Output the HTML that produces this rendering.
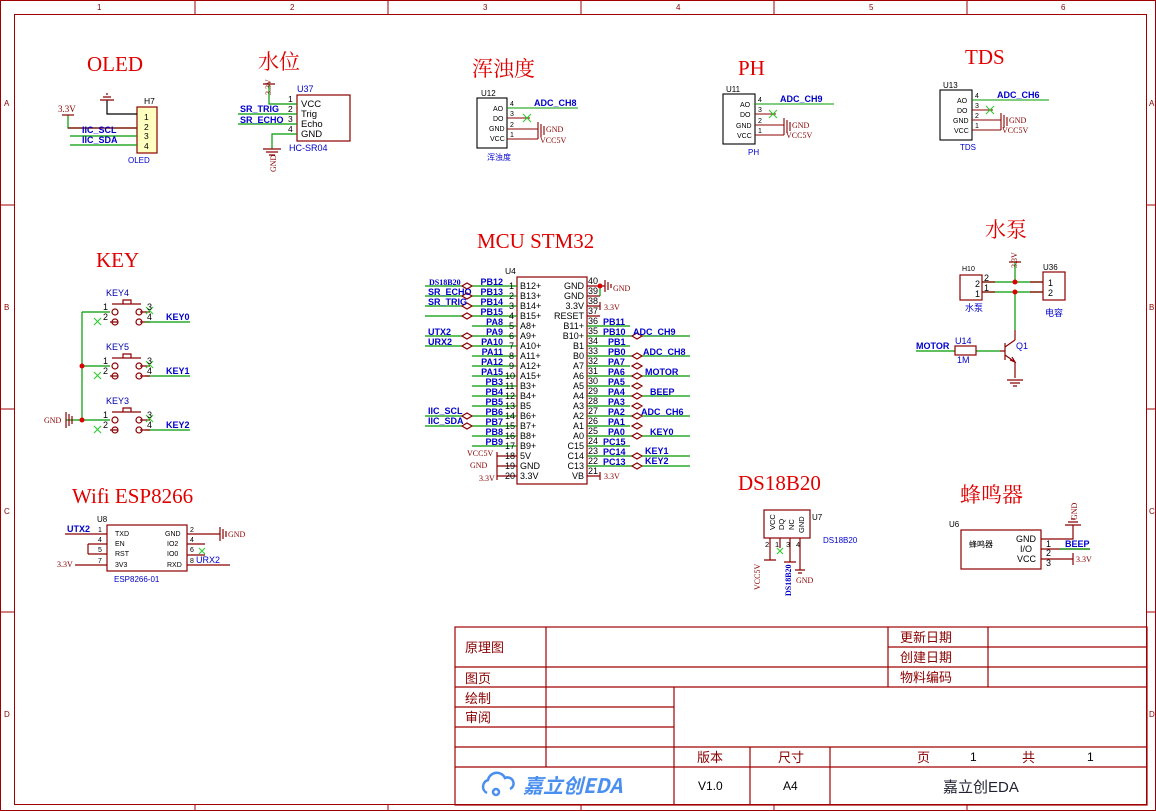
<!DOCTYPE html>
<html><head><meta charset="utf-8"><style>
body{margin:0;background:#fff}
svg{display:block}
.t{font-family:"Liberation Serif","Noto Serif CJK SC",serif;fill:#e00000;font-size:21px}
.s{font-family:"Liberation Sans",sans-serif;font-size:8.5px;fill:#000}
.n{font-family:"Liberation Sans",sans-serif;font-size:9px;fill:#0000cc;font-weight:bold}
.b{font-family:"Liberation Sans",sans-serif;font-size:8px;fill:#0000cc}
.r{font-family:"Liberation Serif",serif;font-size:8px;fill:#8b0000}
.c{font-family:"Liberation Sans","Noto Sans CJK SC",sans-serif;font-size:13px;fill:#8b0000}
.p{font-family:"Liberation Sans",sans-serif;font-size:9px;fill:#8b0000}
</style></head><body>
<svg width="1156" height="811" viewBox="0 0 1156 811" xmlns="http://www.w3.org/2000/svg">
<g fill="none" stroke="#a00000" stroke-width="1">
<rect x="0.5" y="0.5" width="1155" height="810"/>
<rect x="14.5" y="14.5" width="1132" height="790"/>
<path d="M195 0V14M388 0V14M581 0V14M774 0V14M967 0V14M195 805V811M388 805V811M581 805V811M774 805V811M967 805V811M0 205H14M0 409H14M0 612H14M1147 205H1156M1147 409H1156M1147 612H1156"/>
</g>
<g class="p" style="font-size:8px">
<text x="97" y="10">1</text><text x="290" y="10">2</text><text x="483" y="10">3</text><text x="676" y="10">4</text><text x="869" y="10">5</text><text x="1061" y="10">6</text>
<text x="4" y="106">A</text><text x="4" y="310">B</text><text x="4" y="514">C</text><text x="4" y="717">D</text>
<text x="1149" y="106">A</text><text x="1149" y="310">B</text><text x="1149" y="514">C</text><text x="1149" y="717">D</text>
</g>

<!-- titles -->
<text class="t" x="87" y="71">OLED</text>
<text class="t" x="258" y="69" style="font-family:'Noto Serif CJK SC',serif">水位</text>
<text class="t" x="472" y="76" style="font-family:'Noto Serif CJK SC',serif">浑浊度</text>
<text class="t" x="738" y="75">PH</text>
<text class="t" x="965" y="64">TDS</text>
<text class="t" x="96" y="267">KEY</text>
<text class="t" x="477" y="248">MCU STM32</text>
<text class="t" x="985" y="237" style="font-family:'Noto Serif CJK SC',serif">水泵</text>
<text class="t" x="72" y="503">Wifi ESP8266</text>
<text class="t" x="738" y="490">DS18B20</text>
<text class="t" x="960" y="502" style="font-family:'Noto Serif CJK SC',serif">蜂鸣器</text>

<!-- OLED -->
<g stroke-width="1.2" fill="none">
<rect x="137" y="107" width="20" height="46" fill="#ffffc0" stroke="#8b0000"/>
<path d="M68 115V128H137" stroke="#090"/><path d="M68 128H137" stroke="#8b0000"/>
<path d="M107 100V114H137" stroke="#000"/>
<path d="M100 100H114M103 97H111M106 94H108" stroke="#8b0000"/>
<path d="M70 136H137M70 145H137" stroke="#090"/>
<path d="M62 115H74" stroke="#8b0000"/>
</g>
<text class="r" x="58" y="112" style="font-size:9px">3.3V</text>
<text class="s" x="144" y="104">H7</text>
<g class="s"><text x="144" y="120">1</text><text x="144" y="130">2</text><text x="144" y="139">3</text><text x="144" y="149">4</text></g>
<text class="n" x="82" y="133">IIC_SCL</text><text class="n" x="82" y="143">IIC_SDA</text>
<text class="b" x="128" y="163">OLED</text>

<!-- 水位 -->
<g stroke-width="1.2" fill="none">
<rect x="297" y="95" width="53" height="46" stroke="#8b0000"/>
<path d="M269 84V104H297M238 114H297M238 124H297M272 149V134H297" stroke="#090"/>
<path d="M263 149H281M266 152H278M269 155H275M263 84H275" stroke="#8b0000"/>
</g>
<text class="r" x="271" y="95" transform="rotate(-90 271 95)">3.3V</text>
<text class="r" x="276" y="172" transform="rotate(-90 276 172)">GND</text>
<g class="s"><text x="288" y="102">1</text><text x="288" y="112">2</text><text x="288" y="122">3</text><text x="288" y="132">4</text>
<text x="301" y="107" style="font-size:9.5px">VCC</text><text x="301" y="117" style="font-size:9.5px">Trig</text><text x="301" y="127" style="font-size:9.5px">Echo</text><text x="301" y="137" style="font-size:9.5px">GND</text></g>
<text class="b" x="297" y="92" style="font-size:9px">U37</text>
<text class="b" x="289" y="151" style="font-size:9px">HC-SR04</text>
<text class="n" x="240" y="112">SR_TRIG</text><text class="n" x="240" y="123">SR_ECHO</text>

<!-- sensor modules -->
<g stroke-width="1.1" fill="none">
<rect x="477" y="98" width="30" height="50" stroke="#000"/>
<path d="M507 108H578" stroke="#090"/><path d="M507 118H530M507 129H538M507 139H538" stroke="#8b0000"/>
<path d="M523 114L531 122M531 114L523 122" stroke="#3c3"/>
<path d="M538 122V139M541 124V137M544 126V135" stroke="#8b0000"/>
<rect x="723" y="94" width="32" height="50" stroke="#000"/>
<path d="M755 104H834" stroke="#090"/><path d="M755 114H776M755 125H784M755 135H784" stroke="#8b0000"/>
<path d="M769 110L777 118M777 110L769 118" stroke="#3c3"/>
<path d="M784 118V135M787 120V133M790 122V131" stroke="#8b0000"/>
<rect x="940" y="90" width="32" height="50" stroke="#000"/>
<path d="M972 100H1049" stroke="#090"/><path d="M972 110H993M972 120H1001M972 130H1001" stroke="#8b0000"/>
<path d="M986 106L994 114M994 106L986 114" stroke="#3c3"/>
<path d="M1001 113V130M1004 115V128M1007 117V126" stroke="#8b0000"/>
</g>
<g class="s" style="font-size:7px">
<text x="493" y="111">AO</text><text x="493" y="121">DO</text><text x="489" y="131">GND</text><text x="490" y="141">VCC</text>
<text x="510" y="106">4</text><text x="510" y="116">3</text><text x="510" y="127">2</text><text x="510" y="137">1</text>
<text x="740" y="107">AO</text><text x="740" y="117">DO</text><text x="736" y="128">GND</text><text x="737" y="138">VCC</text>
<text x="758" y="102">4</text><text x="758" y="112">3</text><text x="758" y="123">2</text><text x="758" y="133">1</text>
<text x="957" y="103">AO</text><text x="957" y="113">DO</text><text x="953" y="123">GND</text><text x="954" y="133">VCC</text>
<text x="975" y="98">4</text><text x="975" y="108">3</text><text x="975" y="118">2</text><text x="975" y="128">1</text>
</g>
<text class="s" x="481" y="96" style="font-size:8px">U12</text><text class="s" x="726" y="92" style="font-size:8px">U11</text><text class="s" x="943" y="88" style="font-size:8px">U13</text>
<text class="n" x="534" y="106">ADC_CH8</text><text class="n" x="780" y="102">ADC_CH9</text><text class="n" x="997" y="98">ADC_CH6</text>
<g class="r"><text x="546" y="132">GND</text><text x="540" y="143">VCC5V</text><text x="792" y="128">GND</text><text x="786" y="138">VCC5V</text><text x="1009" y="123">GND</text><text x="1002" y="133">VCC5V</text></g>
<text class="b" x="487" y="160" style="font-family:'Noto Sans CJK SC',sans-serif">浑浊度</text>
<text class="b" x="748" y="155">PH</text><text class="b" x="960" y="150">TDS</text>

<!-- KEY -->
<g stroke-width="1.2" fill="none">
<path d="M82 312V420M82 312H110M82 366H110M82 420H110M66 420H82" stroke="#090"/>
<path d="M110 322H118M140 312H150M140 322H150" stroke="#8b0000"/>
<path d="M145 322H190M145 376H190M145 430H190" stroke="#090"/>
<path d="M110 376H118M140 366H150M140 376H150M110 430H118M140 420H150M140 430H150" stroke="#8b0000"/>
<g stroke="#8b0000">
<circle cx="115" cy="312" r="3"/><circle cx="115" cy="322" r="3"/><circle cx="139" cy="312" r="3"/><circle cx="139" cy="322" r="3"/>
<circle cx="115" cy="366" r="3"/><circle cx="115" cy="376" r="3"/><circle cx="139" cy="366" r="3"/><circle cx="139" cy="376" r="3"/>
<circle cx="115" cy="420" r="3"/><circle cx="115" cy="430" r="3"/><circle cx="139" cy="420" r="3"/><circle cx="139" cy="430" r="3"/>
<path d="M112 304H141M123 304V300H131V304M112 358H141M123 358V354H131V358M112 412H141M123 412V408H131V412M66 412V428M69 414V426M72 416V424"/>
</g>
<path d="M94 318L101 325M101 318L94 325M146 307L153 314M153 307L146 314M94 372L101 379M101 372L94 379M146 361L153 368M153 361L146 368M94 426L101 433M101 426L94 433M146 415L153 422M153 415L146 422" stroke="#3c3"/>
</g>
<circle cx="82" cy="366" r="2.5" fill="#d00"/><circle cx="82" cy="420" r="2.5" fill="#d00"/>
<g class="s" style="font-size:9px">
<text x="106" y="296" fill="#0000aa">KEY4</text><text x="106" y="350" fill="#0000aa">KEY5</text><text x="106" y="404" fill="#0000aa">KEY3</text>
<text x="103" y="310">1</text><text x="103" y="320">2</text><text x="147" y="310">3</text><text x="147" y="320">4</text>
<text x="103" y="364">1</text><text x="103" y="374">2</text><text x="147" y="364">3</text><text x="147" y="374">4</text>
<text x="103" y="418">1</text><text x="103" y="428">2</text><text x="147" y="418">3</text><text x="147" y="428">4</text>
</g>
<text class="n" x="166" y="320">KEY0</text><text class="n" x="166" y="374">KEY1</text><text class="n" x="166" y="428">KEY2</text>
<text class="r" x="44" y="423">GND</text>

<!-- MCU -->
<rect x="517" y="277" width="70" height="207" fill="none" stroke="#8b0000" stroke-width="1.2"/>
<text class="s" x="505" y="274">U4</text>
<g stroke-width="1.2" fill="none">
<path d="M425 286H517M425 296H517M425 306H517M425 316H517M472 326H517M425 336H517M425 346H517M472 356H517M472 366H517M472 376H517M472 386H517M472 396H517M472 406H517M425 416H517M425 426H517M472 436H517M472 446H517" stroke="#090"/>
<path d="M497 456H517M497 466H517M497 476H517M497 452V480" stroke="#8b0000"/>
<path d="M587 286H605M587 296H600M587 306H600M587 316H600M587 476H600M600 302V310M600 472V480M605 280V292M608 282V290M611 284V288" stroke="#8b0000"/>
<path d="M600 286V296" stroke="#090"/>
<path d="M587 326H630M587 336H690M587 346H630M587 356H690M587 366H630M587 376H690M587 386H630M587 396H690M587 406H630M587 416H690M587 426H630M587 436H690M587 446H630M587 456H690M587 466H690" stroke="#090"/>
<g stroke="#8b0000"><path d="M462 286l5-3 5 3-5 3zM462 296l5-3 5 3-5 3zM462 306l5-3 5 3-5 3zM462 316l5-3 5 3-5 3zM462 336l5-3 5 3-5 3zM462 346l5-3 5 3-5 3zM462 416l5-3 5 3-5 3zM462 426l5-3 5 3-5 3zM632 336l5-3 5 3-5 3zM632 356l5-3 5 3-5 3zM632 366l5-3 5 3-5 3zM632 376l5-3 5 3-5 3zM632 386l5-3 5 3-5 3zM632 396l5-3 5 3-5 3zM632 406l5-3 5 3-5 3zM632 416l5-3 5 3-5 3zM632 426l5-3 5 3-5 3zM632 436l5-3 5 3-5 3zM632 456l5-3 5 3-5 3zM632 466l5-3 5 3-5 3z" fill="#fff"/></g>
</g>
<circle cx="600" cy="286" r="2.5" fill="#d00"/>
<g class="s" style="font-size:9px">
<text x="509" y="289">1</text><text x="509" y="299">2</text><text x="509" y="309">3</text><text x="509" y="319">4</text><text x="509" y="329">5</text><text x="509" y="339">6</text><text x="509" y="349">7</text><text x="509" y="359">8</text><text x="509" y="369">9</text><text x="505" y="379">10</text><text x="505" y="389">11</text><text x="505" y="399">12</text><text x="505" y="409">13</text><text x="505" y="419">14</text><text x="505" y="429">15</text><text x="505" y="439">16</text><text x="505" y="449">17</text><text x="505" y="459">18</text><text x="505" y="469">19</text><text x="505" y="479">20</text>
<text x="520" y="289">B12+</text><text x="520" y="299">B13+</text><text x="520" y="309">B14+</text><text x="520" y="319">B15+</text><text x="520" y="329">A8+</text><text x="520" y="339">A9+</text><text x="520" y="349">A10+</text><text x="520" y="359">A11+</text><text x="520" y="369">A12+</text><text x="520" y="379">A15+</text><text x="520" y="389">B3+</text><text x="520" y="399">B4+</text><text x="520" y="409">B5</text><text x="520" y="419">B6+</text><text x="520" y="429">B7+</text><text x="520" y="439">B8+</text><text x="520" y="449">B9+</text><text x="520" y="459">5V</text><text x="520" y="469">GND</text><text x="520" y="479">3.3V</text>
<g text-anchor="end"><text x="584" y="289">GND</text><text x="584" y="299">GND</text><text x="584" y="309">3.3V</text><text x="584" y="319">RESET</text><text x="584" y="329">B11+</text><text x="584" y="339">B10+</text><text x="584" y="349">B1</text><text x="584" y="359">B0</text><text x="584" y="369">A7</text><text x="584" y="379">A6</text><text x="584" y="389">A5</text><text x="584" y="399">A4</text><text x="584" y="409">A3</text><text x="584" y="419">A2</text><text x="584" y="429">A1</text><text x="584" y="439">A0</text><text x="584" y="449">C15</text><text x="584" y="459">C14</text><text x="584" y="469">C13</text><text x="584" y="479">VB</text></g>
<text x="588" y="284">40</text><text x="588" y="294">39</text><text x="588" y="304">38</text><text x="588" y="314">37</text><text x="588" y="324">36</text><text x="588" y="334">35</text><text x="588" y="344">34</text><text x="588" y="354">33</text><text x="588" y="364">32</text><text x="588" y="374">31</text><text x="588" y="384">30</text><text x="588" y="394">29</text><text x="588" y="404">28</text><text x="588" y="414">27</text><text x="588" y="424">26</text><text x="588" y="434">25</text><text x="588" y="444">24</text><text x="588" y="454">23</text><text x="588" y="464">22</text><text x="588" y="474">21</text>
</g>
<g class="n" text-anchor="end">
<text x="503" y="285">PB12</text><text x="503" y="295">PB13</text><text x="503" y="305">PB14</text><text x="503" y="315">PB15</text><text x="503" y="325">PA8</text><text x="503" y="335">PA9</text><text x="503" y="345">PA10</text><text x="503" y="355">PA11</text><text x="503" y="365">PA12</text><text x="503" y="375">PA15</text><text x="503" y="385">PB3</text><text x="503" y="395">PB4</text><text x="503" y="405">PB5</text><text x="503" y="415">PB6</text><text x="503" y="425">PB7</text><text x="503" y="435">PB8</text><text x="503" y="445">PB9</text>
</g>
<g class="n">
<text x="603" y="325">PB11</text><text x="603" y="335">PB10</text><text x="608" y="345">PB1</text><text x="608" y="355">PB0</text><text x="608" y="365">PA7</text><text x="608" y="375">PA6</text><text x="608" y="385">PA5</text><text x="608" y="395">PA4</text><text x="608" y="405">PA3</text><text x="608" y="415">PA2</text><text x="608" y="425">PA1</text><text x="608" y="435">PA0</text><text x="603" y="445">PC15</text><text x="603" y="455">PC14</text><text x="603" y="465">PC13</text>
<text x="633" y="335">ADC_CH9</text><text x="643" y="355">ADC_CH8</text><text x="645" y="375">MOTOR</text><text x="650" y="395">BEEP</text><text x="641" y="415">ADC_CH6</text><text x="650" y="435">KEY0</text><text x="645" y="454">KEY1</text><text x="645" y="464">KEY2</text>
<text x="428" y="295">SR_ECHO</text><text x="428" y="305">SR_TRIG</text><text x="428" y="335">UTX2</text><text x="428" y="345">URX2</text><text x="428" y="414">IIC_SCL</text><text x="428" y="424">IIC_SDA</text>
</g>
<text class="r" x="429" y="285" style="font-weight:bold;fill:#0000cc">DS18B20</text>
<g class="r"><text x="467" y="456">VCC5V</text><text x="470" y="468">GND</text><text x="479" y="481">3.3V</text><text x="613" y="291">GND</text><text x="604" y="310">3.3V</text><text x="604" y="479">3.3V</text></g>

<!-- ESP8266 -->
<g stroke-width="1.2" fill="none">
<rect x="107" y="525" width="80" height="46" stroke="#8b0000"/>
<path d="M65 534H107M187 534H220M187 555H205" stroke="#8b0000"/>
<path d="M88 544H107M88 554H107M88 544V554M187 544H205M187 565H230M75 565H107" stroke="#8b0000"/>
<path d="M220 527V541M223 529V539M226 531V537" stroke="#8b0000"/>
<path d="M199 548L205 554M205 548L199 554" stroke="#3c3"/>
</g>
<g class="s" style="font-size:7px"><text x="115" y="536">TXD</text><text x="115" y="546">EN</text><text x="115" y="556">RST</text><text x="115" y="567">3V3</text>
<text x="165" y="536">GND</text><text x="167" y="546">IO2</text><text x="167" y="556">IO0</text><text x="167" y="567">RXD</text>
<text x="98" y="532">1</text><text x="98" y="542">4</text><text x="98" y="552">5</text><text x="98" y="563">7</text><text x="190" y="532">2</text><text x="190" y="542">4</text><text x="190" y="552">6</text><text x="190" y="563">8</text></g>
<text class="s" x="97" y="522" style="font-size:8px">U8</text>
<text class="b" x="114" y="582">ESP8266-01</text>
<text class="n" x="67" y="532">UTX2</text><text class="b" x="196" y="563" style="font-size:9px">URX2</text>
<text class="r" x="57" y="567">3.3V</text><text class="r" x="228" y="537">GND</text>

<!-- DS18B20 -->
<g stroke-width="1.2" fill="none">
<rect x="764" y="510" width="46" height="28" stroke="#8b0000"/>
<path d="M770 538V560M780 538V548M790 538V562M800 538V570M764 560H776M784 562H796M795 570H805M798 573H802" stroke="#8b0000"/>
<path d="M777 548L783 554M783 548L777 554" stroke="#3c3"/>
</g>
<g class="s" style="font-size:7.5px">
<text x="775" y="530" transform="rotate(-90 775 530)">VCC</text><text x="784" y="530" transform="rotate(-90 784 530)">DQ</text><text x="794" y="530" transform="rotate(-90 794 530)">NC</text><text x="804" y="533" transform="rotate(-90 804 533)">GND</text>
<text x="765" y="547">2</text><text x="775" y="547">1</text><text x="786" y="547">3</text><text x="796" y="547">4</text>
</g>
<text class="s" x="812" y="520" style="font-size:8px">U7</text>
<text class="b" x="823" y="543">DS18B20</text>
<text class="r" x="760" y="590" transform="rotate(-90 760 590)">VCC5V</text>
<text class="r" x="791" y="596" transform="rotate(-90 791 596)" style="fill:#0000cc;font-weight:bold">DS18B20</text>
<text class="r" x="796" y="583">GND</text>

<!-- 水泵 -->
<g stroke-width="1.2" fill="none">
<rect x="960" y="275" width="22" height="25" stroke="#8b0000"/>
<rect x="1043" y="272" width="22" height="28" stroke="#8b0000"/>
<path d="M982 282H1043M982 292H1043M1015 262V282M1015 292V330" stroke="#090"/>
<path d="M982 282H995M1030 282H1043M982 292H995M1030 292H1043M1009 262H1021" stroke="#8b0000"/>
<path d="M916 351H955M976 351H1000" stroke="#090"/>
<rect x="955" y="346" width="21" height="9" stroke="#8b0000"/>
<path d="M1000 351H1005M1005 343V360M1005 347L1015 340M1005 355L1015 362V378M1010 360L1015 362L1012 357M1015 330V340M1007 380H1023M1010 383H1020M1013 386H1017" stroke="#8b0000"/>
</g>
<circle cx="1015" cy="282" r="2.5" fill="#d00"/><circle cx="1015" cy="292" r="2.5" fill="#d00"/>
<g class="s" style="font-size:9px"><text x="975" y="287">2</text><text x="975" y="297">1</text><text x="984" y="281">2</text><text x="984" y="291">1</text><text x="1048" y="286">1</text><text x="1048" y="296">2</text></g>
<text class="s" x="962" y="271" style="font-size:7px">H10</text>
<text class="s" x="1043" y="270" style="font-size:8px">U36</text>
<text class="b" x="1045" y="316" style="font-family:'Noto Sans CJK SC',sans-serif;font-size:9px">电容</text>
<text class="b" x="965" y="311" style="font-family:'Noto Sans CJK SC',sans-serif;font-size:9px">水泵</text>
<text class="r" x="1017" y="268" transform="rotate(-90 1017 268)">3.3V</text>
<text class="n" x="916" y="349">MOTOR</text>
<text class="b" x="955" y="344" style="font-size:9px">U14</text><text class="b" x="957" y="363" style="font-size:9px">1M</text>
<text class="b" x="1016" y="349" style="font-size:9px">Q1</text>

<!-- 蜂鸣器 -->
<g stroke-width="1.2" fill="none">
<rect x="961" y="530" width="80" height="39" stroke="#8b0000"/>
<path d="M1041 539H1073V525M1041 549H1090M1041 559H1073" stroke="#8b0000"/>
<path d="M1060 549H1090" stroke="#090"/>
<path d="M1065 525H1081M1068 522H1078M1071 519H1075M1073 553V565" stroke="#8b0000"/>
</g>
<g class="s" style="font-size:9px"><text x="1016" y="542">GND</text><text x="1020" y="552">I/O</text><text x="1017" y="562">VCC</text><text x="1046" y="547">1</text><text x="1046" y="556">2</text><text x="1046" y="566">3</text></g>
<text class="s" x="969" y="547" style="font-family:'Noto Sans CJK SC',sans-serif;font-size:8px">蜂鸣器</text>
<text class="s" x="949" y="527" style="font-size:8px">U6</text>
<text class="n" x="1065" y="547">BEEP</text>
<text class="r" x="1077" y="520" transform="rotate(-90 1077 520)">GND</text>
<text class="r" x="1076" y="562">3.3V</text>

<!-- title block -->
<g stroke="#a00000" stroke-width="1.2" fill="none">
<rect x="455" y="627" width="692" height="178"/>
<path d="M455 667H1147M455 687H1147M455 707H674M455 727H674M455 747H1147M455 767H1147M888 647H1147"/>
<path d="M546 627V767M888 627V687M988 627V687M674 687V805M750 747V805M830 747V805"/>
</g>
<g class="c"><text x="465" y="652">原理图</text><text x="465" y="683">图页</text><text x="465" y="703">绘制</text><text x="465" y="722">审阅</text>
<text x="900" y="642">更新日期</text><text x="900" y="662">创建日期</text><text x="900" y="682">物料编码</text>
<text x="697" y="762">版本</text><text x="778" y="762">尺寸</text><text x="917" y="762">页</text><text x="1022" y="762">共</text></g>
<g class="s" style="font-size:12px"><text x="970" y="761">1</text><text x="1087" y="761">1</text><text x="698" y="790">V1.0</text><text x="783" y="790">A4</text></g>
<text x="943" y="792" style="font-family:'Liberation Sans','Noto Sans CJK SC',sans-serif;font-size:15px;fill:#223">嘉立创EDA</text>
<g stroke="#4a8ff0" stroke-width="2.5" fill="none"><path d="M487 793a7 7 0 0 1 1-13a9 9 0 0 1 17-2a6 6 0 0 1 5 11"/><circle cx="496" cy="792" r="3"/></g>
<text x="523" y="793" style="font-family:'Noto Sans CJK SC','Liberation Sans',sans-serif;font-size:20px;font-weight:bold;fill:#4a8ff0;font-style:italic">嘉立创EDA</text>
</svg>
</body></html>
